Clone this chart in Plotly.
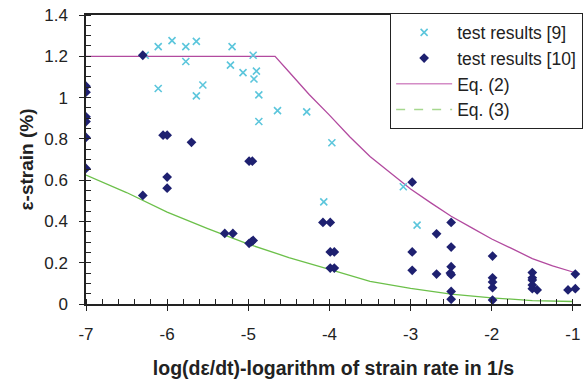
import plotly.graph_objects as go

# ---- data ----
t9_x = [-6.11, -5.94, -5.77, -5.64, -5.20, -6.27, -4.94, -5.77, -5.22, -5.065, -4.90, -4.93,
        -6.11, -5.56, -5.64, -4.87, -4.64, -4.28, -4.87, -3.97, -4.07, -3.09, -2.92]
t9_y = [1.247, 1.276, 1.247, 1.272, 1.247, 1.205, 1.205, 1.175, 1.157, 1.121, 1.128, 1.09,
        1.044, 1.061, 1.008, 1.013, 0.937, 0.931, 0.884, 0.781, 0.495, 0.568, 0.382]

t10_x = [-6.30, -7.0, -7.0, -7.0, -7.0, -7.0, -6.05, -6.0, -5.70, -4.99, -4.95,
         -7.0, -6.0, -6.0, -6.30, -5.29, -5.19, -4.99, -4.96, -4.94,
         -4.08, -3.99, -3.99, -3.94, -3.99, -3.94,
         -2.98, -2.98, -2.98, -2.68, -2.68,
         -2.50, -2.50, -2.50, -2.51, -2.50, -2.50, -2.50,
         -1.99, -1.99, -1.99, -1.99, -1.99,
         -1.50, -1.50, -1.50, -1.50, -1.50, -1.44,
         -1.06, -0.97, -0.97]
t10_y = [1.205, 1.055, 1.026, 0.907, 0.884, 0.807, 0.818, 0.818, 0.783, 0.692, 0.692,
         0.657, 0.615, 0.561, 0.526, 0.342, 0.342, 0.294, 0.302, 0.308,
         0.395, 0.395, 0.252, 0.252, 0.174, 0.174,
         0.59, 0.252, 0.163, 0.340, 0.145,
         0.395, 0.276, 0.181, 0.150, 0.142, 0.061, 0.023,
         0.232, 0.127, 0.106, 0.079, 0.019,
         0.152, 0.127, 0.116, 0.092, 0.074, 0.068,
         0.068, 0.145, 0.074]

eq2_x = [-7.0, -4.67, -4.5, -4.25, -4.0, -3.75, -3.5, -3.25, -3.0, -2.75, -2.5, -2.25,
         -2.0, -1.75, -1.5, -1.25, -1.0]
eq2_y = [1.2, 1.2, 1.125, 1.015, 0.915, 0.81, 0.715, 0.635, 0.557, 0.49, 0.425, 0.37,
         0.315, 0.268, 0.22, 0.185, 0.155]

eq3_x = [-7.0, -6.5, -6.0, -5.5, -5.0, -4.5, -4.0, -3.5, -3.0, -2.5, -2.0, -1.5, -1.0]
eq3_y = [0.625, 0.54, 0.445, 0.365, 0.29, 0.225, 0.168, 0.11, 0.076, 0.048, 0.03, 0.016, 0.012]

x_ticks = [-7, -6, -5, -4, -3, -2, -1]
y_ticks = [0, 0.2, 0.4, 0.6, 0.8, 1, 1.2, 1.4]
y_tick_labels = ["0", "0.2", "0.4", "0.6", "0.8", "1", "1.2", "1.4"]

FONT = "Liberation Sans, Arial, sans-serif"
CYAN = "#5cc6dc"
NAVY = "#1e2070"
MAG = "#b24a9f"
GREEN = "#6cc04a"

fig = go.Figure()
fig.add_trace(go.Scatter(x=eq2_x, y=eq2_y, mode="lines", line=dict(color=MAG, width=1.3),
                         showlegend=False, hoverinfo="skip"))
fig.add_trace(go.Scatter(x=eq3_x, y=eq3_y, mode="lines", line=dict(color=GREEN, width=1.3),
                         showlegend=False, hoverinfo="skip"))
fig.add_trace(go.Scatter(x=t9_x, y=t9_y, mode="markers", name="test results [9]",
                         legendgroup="a",
                         marker=dict(symbol="x-thin", size=7, line=dict(color=CYAN, width=1.6), color=CYAN)))
fig.add_trace(go.Scatter(x=t10_x, y=t10_y, mode="markers", name="test results [10]",
                         legendgroup="b",
                         marker=dict(symbol="diamond", size=7.5, color=NAVY)))
# legend-only samples
fig.add_trace(go.Scatter(x=[None], y=[None], mode="lines", name="Eq. (2)", legendgroup="c",
                         line=dict(color="#d48cc6", width=1.5)))
fig.add_trace(go.Scatter(x=[None], y=[None], mode="lines", name="Eq. (3)", legendgroup="d",
                         line=dict(color="#a6d88e", width=1.5, dash="dash")))

axis_common = dict(showgrid=False, zeroline=False, showline=True, linecolor="#222", linewidth=1.5,
                   ticks="outside", ticklen=5, tickwidth=1.2, tickcolor="#222", automargin=False,
                   ticklabeloverflow="allow",
                   tickfont=dict(family=FONT, size=17, color="#222"))

fig.update_xaxes(range=[-7, -0.9], tickvals=x_ticks, ticktext=[str(v) for v in x_ticks],
                 mirror=True, ticklabelstandoff=9,
                 minor=dict(dtick=0.2, tick0=-7, ticks="inside", ticklen=5, tickcolor="#222", tickwidth=1),
                 title=dict(text="<b>log(dε/dt)-logarithm of strain rate in 1/s</b>",
                            font=dict(family=FONT, size=19.5, color="#222"), standoff=18),
                 **axis_common)
fig.update_yaxes(range=[0, 1.4], tickvals=y_ticks, ticktext=y_tick_labels,
                 ticklabelstandoff=8,
                 minor=dict(dtick=0.05, tick0=0, ticks="inside", ticklen=5, tickcolor="#222", tickwidth=1),
                 title=dict(text="<b>ε-strain (%)</b>", font=dict(family=FONT, size=19, color="#222"),
                            standoff=6),
                 **axis_common)

fig.update_layout(
    width=584, height=383,
    margin=dict(l=86, r=1, t=15, b=79),
    paper_bgcolor="white", plot_bgcolor="white",
    font=dict(family=FONT, size=17, color="#222"),
    legend=dict(x=0.614, y=1.006, xanchor="left", yanchor="top",
                bgcolor="white", bordercolor="#222", borderwidth=1.2,
                font=dict(family=FONT, size=17.5, color="#222"),
                tracegroupgap=0, itemwidth=56),
)

# remove the browser's default 8px body margin so the figure fills the window exactly
fig.write_html("out.html", config={"displayModeBar": False},
               post_script="document.body.style.margin='0px';")
